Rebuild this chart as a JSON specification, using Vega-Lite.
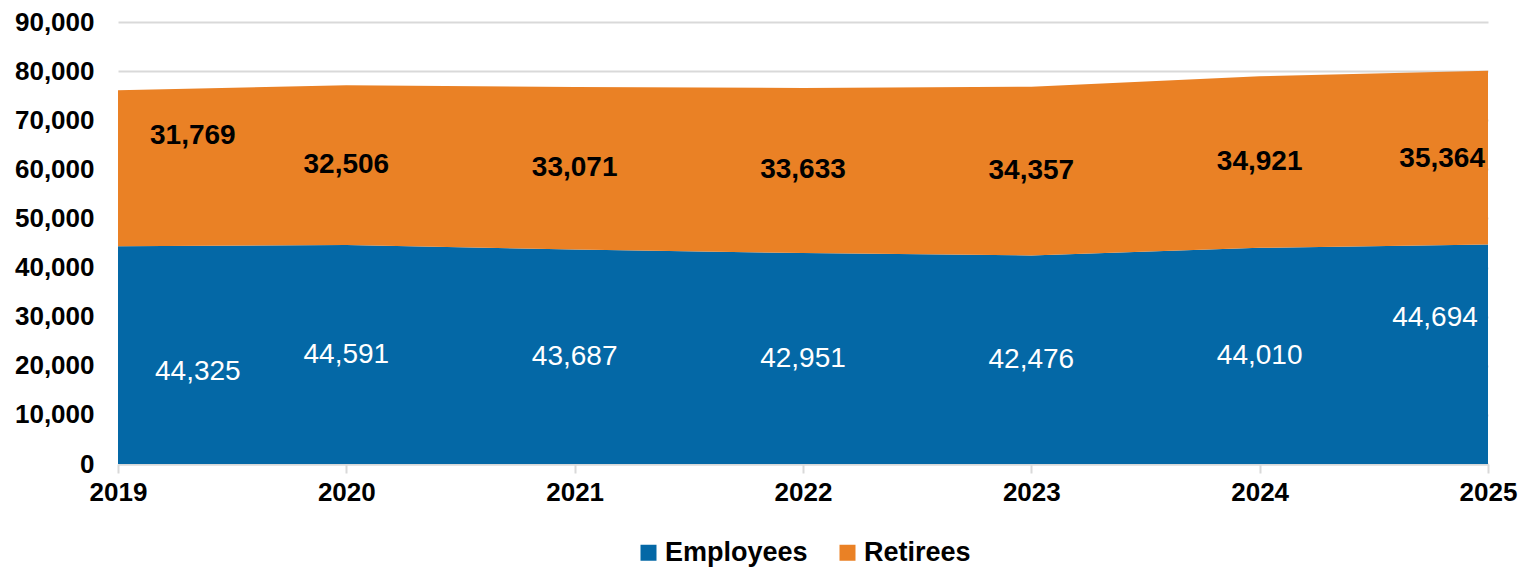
{
  "$schema": "https://vega.github.io/schema/vega-lite/v6.json",
  "width": 1370,
  "height": 442,
  "padding": {"left": 14, "top": 9, "right": 8, "bottom": 5},
  "config": {
    "font": "Liberation Sans",
    "view": {"stroke": null},
    "axis": {"labelFont": "Liberation Sans", "labelFontSize": 26, "labelFontWeight": "bold", "labelColor": "#000000", "title": null},
    "axisY": {"values": [0, 10000, 20000, 30000, 40000, 50000, 60000, 70000, 80000, 90000], "format": ",d", "grid": true, "gridColor": "#D9D9D9", "gridWidth": 2, "domain": false, "ticks": false, "labelPadding": 24},
    "legend": {"labelFont": "Liberation Sans", "labelFontSize": 27, "labelFontWeight": "bold", "labelColor": "#000000", "layout": {"bottom": {"anchor": "middle"}}}
  },
  "data": {
    "values": [
      {"year": 2019, "series": "Employees", "value": 44325},
      {"year": 2020, "series": "Employees", "value": 44591},
      {"year": 2021, "series": "Employees", "value": 43687},
      {"year": 2022, "series": "Employees", "value": 42951},
      {"year": 2023, "series": "Employees", "value": 42476},
      {"year": 2024, "series": "Employees", "value": 44010},
      {"year": 2025, "series": "Employees", "value": 44694},
      {"year": 2019, "series": "Retirees", "value": 31769},
      {"year": 2020, "series": "Retirees", "value": 32506},
      {"year": 2021, "series": "Retirees", "value": 33071},
      {"year": 2022, "series": "Retirees", "value": 33633},
      {"year": 2023, "series": "Retirees", "value": 34357},
      {"year": 2024, "series": "Retirees", "value": 34921},
      {"year": 2025, "series": "Retirees", "value": 35364}
    ]
  },
  "transform": [
    {"stack": "value", "groupby": ["year"], "sort": [{"field": "series", "order": "ascending"}], "as": ["y0", "y1"]},
    {"calculate": "(datum.y0 + datum.y1) / 2", "as": "mid"}
  ],
  "encoding": {
    "x": {
      "field": "year", "type": "quantitative",
      "scale": {"domain": [2019, 2025], "nice": false, "zero": false},
      "axis": {"values": [2019, 2020, 2021, 2022, 2023, 2024, 2025], "format": "d", "grid": false, "domain": true, "domainColor": "#D9D9D9", "domainWidth": 2, "ticks": true, "tickColor": "#D9D9D9", "tickWidth": 2, "tickSize": 9, "labelPadding": 6, "labelFlush": false, "labelOverlap": false, "labelBound": false}
    }
  },
  "layer": [
    {
      "mark": {"type": "area", "opacity": 1},
      "encoding": {
        "y": {"field": "y1", "type": "quantitative", "scale": {"domain": [0, 90000], "nice": false}},
        "y2": {"field": "y0"},
        "color": {
          "field": "series", "type": "nominal",
          "scale": {"domain": ["Employees", "Retirees"], "range": ["#0468A6", "#EA8125"]},
          "legend": {"orient": "bottom", "direction": "horizontal", "title": null, "symbolType": "square", "symbolSize": 256, "symbolOpacity": 1, "symbolStrokeWidth": 0, "labelOffset": 3, "columnPadding": 26, "offset": 34}
        }
      }
    },
    {
      "transform": [{"filter": "datum.series == 'Employees' && datum.year > 2019 && datum.year < 2025"}],
      "mark": {"type": "text", "fontSize": 28, "color": "#FFFFFF", "baseline": "middle", "align": "center"},
      "encoding": {"y": {"field": "mid", "type": "quantitative"}, "text": {"field": "value", "type": "quantitative", "format": ",d"}}
    },
    {
      "transform": [{"filter": "datum.series == 'Retirees' && datum.year > 2019 && datum.year < 2025"}],
      "mark": {"type": "text", "fontSize": 28, "fontWeight": "bold", "color": "#000000", "baseline": "middle", "align": "center"},
      "encoding": {"y": {"field": "mid", "type": "quantitative"}, "text": {"field": "value", "type": "quantitative", "format": ",d"}}
    },
    {
      "transform": [{"filter": "datum.series == 'Employees' && datum.year == 2019"}],
      "mark": {"type": "text", "fontSize": 28, "color": "#FFFFFF", "baseline": "middle", "align": "left", "dx": 37, "dy": 17},
      "encoding": {"y": {"field": "mid", "type": "quantitative"}, "text": {"field": "value", "type": "quantitative", "format": ",d"}}
    },
    {
      "transform": [{"filter": "datum.series == 'Retirees' && datum.year == 2019"}],
      "mark": {"type": "text", "fontSize": 28, "fontWeight": "bold", "color": "#000000", "baseline": "middle", "align": "left", "dx": 32, "dy": -32},
      "encoding": {"y": {"field": "mid", "type": "quantitative"}, "text": {"field": "value", "type": "quantitative", "format": ",d"}}
    },
    {
      "transform": [{"filter": "datum.series == 'Employees' && datum.year == 2025"}],
      "mark": {"type": "text", "fontSize": 28, "color": "#FFFFFF", "baseline": "middle", "align": "center", "dx": -53, "dy": -36},
      "encoding": {"y": {"field": "mid", "type": "quantitative"}, "text": {"field": "value", "type": "quantitative", "format": ",d"}}
    },
    {
      "transform": [{"filter": "datum.series == 'Retirees' && datum.year == 2025"}],
      "mark": {"type": "text", "fontSize": 28, "fontWeight": "bold", "color": "#000000", "baseline": "middle", "align": "right", "dx": -3, "dy": 1},
      "encoding": {"y": {"field": "mid", "type": "quantitative"}, "text": {"field": "value", "type": "quantitative", "format": ",d"}}
    }
  ]
}
